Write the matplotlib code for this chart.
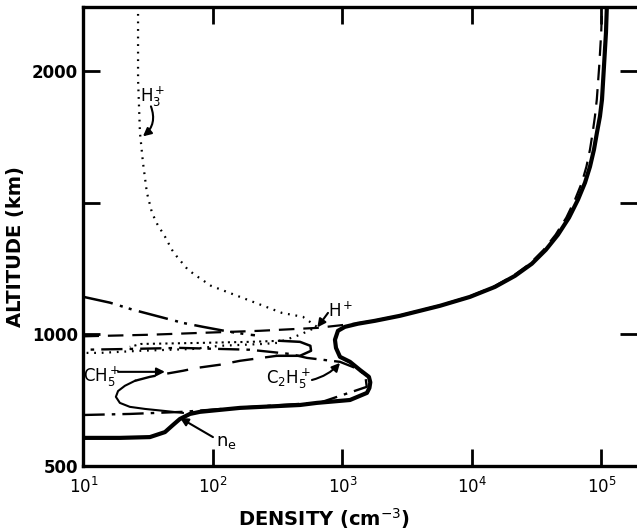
import matplotlib
matplotlib.use("Agg")
import matplotlib.pyplot as plt

plt.rcParams['font.family'] = ['DejaVu Sans']
plt.rcParams['mathtext.fontset'] = 'dejavusans'

# ---- data (density cm^-3, altitude km) ----
ne_dens = [10, 19.1, 32.6, 42.6, 49.1, 55.6, 66.4, 79.4, 162, 470, 635, 1143, 1545,
           1615, 1640, 1600, 1365, 1143, 957, 891, 875, 923, 1044, 1318, 1784,
           2780, 5660, 9660, 15070, 21500, 29000, 37200, 46100, 56100, 65900,
           74600, 81500, 87500, 92300, 97300, 100900, 104500, 108300, 110000]
ne_alt = [607, 607, 610, 629, 656, 679, 698, 706, 721, 732, 740, 751, 778,
          797, 818, 839, 865, 896, 915, 949, 980, 1014, 1029, 1041, 1052,
          1071, 1109, 1143, 1181, 1223, 1269, 1322, 1379, 1444, 1513,
          1577, 1638, 1703, 1768, 1829, 1893, 2019, 2148, 2247]

hp_dens = [10, 32.6, 79.4, 231, 635, 1250, 1730, 2700, 5500, 9400, 14600, 20800,
           28000, 35800, 44200, 53500, 62500, 70500, 76500, 81500, 85500, 89000,
           92000, 96000, 99500, 101000]
hp_alt = [993, 999, 1006, 1014, 1025, 1041, 1052, 1071, 1109, 1143, 1181, 1223,
          1269, 1322, 1379, 1444, 1513, 1577, 1638, 1703, 1768, 1829,
          1893, 2019, 2148, 2247]

h3p_dens = [26.4, 26.4, 26.4, 27.3, 28.8, 30.9, 33.8, 37.0, 42.6, 48.2, 52.7, 64.1,
            78.0, 96.6, 341, 495, 635, 470, 312, 243, 113, 70.1, 27.3, 13.4, 10]
h3p_alt = [2247, 2038, 1970, 1768, 1654, 1539, 1463, 1421, 1372, 1322, 1296, 1246,
           1216, 1185, 1082, 1067, 1029, 999, 968, 964, 957, 945, 938, 930, 930]

heavy_dens = [10, 16.0, 24.1, 39.0, 58.6, 83.8, 135, 193, 211]
heavy_alt = [1143, 1121, 1094, 1067, 1044, 1029, 1010, 999, 997]

c2h5_dens = [10, 22.8, 58.6, 150, 670, 1540, 1500, 1300, 957, 532, 394, 193, 55.6, 22.8, 10]
c2h5_alt = [694, 698, 706, 721, 741, 801, 846, 870, 896, 911, 926, 942, 949, 945, 942]

ch5_low_dens = [58.6, 41.1, 29.9, 22.8, 19.1, 17.8, 18.5, 20.9, 25.0]
ch5_low_alt = [702, 710, 717, 725, 740, 763, 785, 805, 824]
ch5_mid_dens = [25.0, 32.6, 42.6, 58.6, 75.2, 113, 162, 312]
ch5_mid_alt = [824, 839, 850, 862, 873, 885, 900, 919]
ch5_loop_dens = [312, 470, 572, 565, 470, 329]
ch5_loop_alt = [919, 919, 938, 957, 972, 976]
ch5_top_dens = [329, 193, 79.4, 27.8, 22.8]
ch5_top_alt = [976, 972, 968, 964, 953]

xticks = [1e1, 1e2, 1e3, 1e4, 1e5]
xticklabels = [r'$10^{1}$', r'$10^{2}$', r'$10^{3}$', r'$10^{4}$', r'$10^{5}$']
yticks = [500, 1000, 1500, 2000]
yticklabels = ['500', '1000', '', '2000']

fig = plt.figure(figsize=(6.37, 5.32), dpi=100)
ax = fig.add_axes([0.131, 0.124, 0.869, 0.863])
ax.set_xscale('log')
ax.set_xlim(10, 1.88e5)
ax.set_ylim(500, 2245)

k = 'black'
ax.plot(ne_dens, ne_alt, color=k, lw=3.0, solid_joinstyle='round', solid_capstyle='round')
ax.plot(hp_dens, hp_alt, color=k, lw=1.6, linestyle=(0, (7, 4)))
ax.plot(h3p_dens, h3p_alt, color=k, lw=1.6, linestyle=(0, (0.8, 2.6)))
ax.plot(heavy_dens, heavy_alt, color=k, lw=1.8, linestyle=(0, (12, 3, 1.2, 2.5, 1.2, 3)))
ax.plot(c2h5_dens, c2h5_alt, color=k, lw=1.7, linestyle=(0, (9, 3, 1.5, 3)))
ax.plot(ch5_low_dens, ch5_low_alt, color=k, lw=1.5)
ax.plot(ch5_mid_dens, ch5_mid_alt, color=k, lw=1.7, linestyle=(0, (9, 5)))
ax.plot(ch5_loop_dens, ch5_loop_alt, color=k, lw=1.8)
ax.plot(ch5_top_dens, ch5_top_alt, color=k, lw=1.5, linestyle=(0, (1, 2)))

# labels and arrows
fs = 12
ax.text(34, 1905, r'$\mathrm{H_3^+}$', fontsize=fs, ha='center', va='center')
ax.text(973, 1090, r'$\mathrm{H^+}$', fontsize=fs, ha='center', va='center')
ax.text(13.9, 840, r'$\mathrm{CH_5^+}$', fontsize=fs, ha='center', va='center')
ax.text(386, 832, r'$\mathrm{C_2H_5^+}$', fontsize=fs, ha='center', va='center')
ax.text(126, 591, r'$\mathrm{n_e}$', fontsize=fs + 1, ha='center', va='center')

arrow = dict(arrowstyle='-|>', color=k, lw=1.5, mutation_scale=12,
             shrinkA=0, shrinkB=0)
ax.annotate('', xy=(28.8, 1753), xytext=(33.2, 1867),
            arrowprops=dict(arrow, connectionstyle='arc3,rad=-0.35'))
ax.annotate('', xy=(640, 1027), xytext=(773, 1082), arrowprops=arrow)
ax.annotate('', xy=(42.6, 858), xytext=(18.5, 858), arrowprops=arrow)
ax.annotate('', xy=(957, 892), xytext=(581, 827),
            arrowprops=dict(arrow, connectionstyle='arc3,rad=0.15'))
ax.annotate('', xy=(55.6, 683), xytext=(100, 610), arrowprops=arrow)

ax.set_xticks(xticks)
ax.set_xticklabels(xticklabels)
ax.set_yticks(yticks)
ax.set_yticklabels(yticklabels)
ax.minorticks_off()
ax.tick_params(direction='in', length=12, width=2, top=True, right=True,
               labelsize=12, pad=8)
ax.tick_params(axis='y', pad=4)
for lab in ax.get_yticklabels():
    lab.set_fontweight('bold')
for side in ['left', 'top', 'bottom']:
    ax.spines[side].set_linewidth(2.4)
ax.spines['right'].set_visible(False)

ax.set_ylabel('ALTITUDE (km)', fontsize=14, fontweight='bold')
ax.yaxis.set_label_coords(-0.106, 0.479)
ax.set_xlabel(r'DENSITY (cm$^{-3}$)', fontsize=14, fontweight='bold')
ax.xaxis.set_label_coords(0.434, -0.088)

fig.savefig('out.png', dpi=100)
